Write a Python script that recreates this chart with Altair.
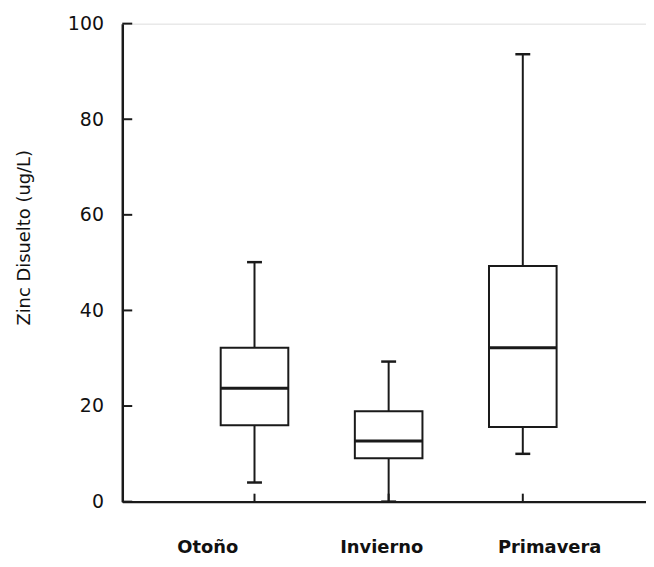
import altair as alt
import pandas as pd

# Data
seasons = ["Otoño", "Invierno", "Primavera"]
whisker_low = [4.0, 0.0, 10.0]
q1 = [16.0, 9.1, 15.6]
median = [23.7, 12.7, 32.2]
q3 = [32.2, 18.9, 49.3]
whisker_high = [50.1, 29.3, 93.6]
y_ticks = [0, 20, 40, 60, 80, 100]

df = pd.DataFrame({
    "season": seasons,
    "low": whisker_low,
    "q1": q1,
    "median": median,
    "q3": q3,
    "high": whisker_high,
})
ticks_df = pd.DataFrame({"v": y_ticks})

INK = "#1a1a1a"
W, H = 527, 481

x_enc = alt.X(
    "season:N",
    sort=seasons,
    title=None,
    scale=alt.Scale(paddingInner=0.496, paddingOuter=0.7, align=0.524),
    axis=alt.Axis(
        domain=True, domainColor=INK, domainWidth=2.5,
        ticks=False, grid=False,
        labelAngle=0,
        labelFont="DejaVu Sans", labelFontWeight="bold", labelFontSize=18,
        labelColor="#111111",
        labelPadding=37,
        labelOffset={
            "condition": [
                {"test": "datum.value === 'Otoño'", "value": -47},
                {"test": "datum.value === 'Primavera'", "value": 27},
            ],
            "value": -7,
        },
    ),
)
y_scale = alt.Scale(domain=[0, 100], nice=False, zero=True)
y_axis = alt.Axis(
    values=y_ticks,
    domain=True, domainColor=INK, domainWidth=2.5,
    ticks=False, grid=False,
    labelFont="DejaVu Sans", labelFontSize=19, labelColor="#111111",
    labelPadding=19,
    title="Zinc Disuelto (ug/L)",
    titleFont="DejaVu Sans", titleFontSize=18, titleFontWeight="normal",
    titleColor="#111111",
    titleX=-98, titleY=215, titleAngle=270,
    titleAlign="center", titleBaseline="middle",
)

base = alt.Chart(df)

whisk = base.mark_rule(color=INK, strokeWidth=2).encode(
    x=x_enc,
    y=alt.Y("low:Q", scale=y_scale, axis=y_axis),
    y2="high:Q",
)
box = base.mark_bar(fill="white", stroke=INK, strokeWidth=2, opacity=1).encode(
    x=alt.X("season:N", sort=seasons),
    y="q1:Q",
    y2="q3:Q",
)
med = base.mark_tick(color=INK, size=68, thickness=3, opacity=1).encode(
    x=alt.X("season:N", sort=seasons),
    y="median:Q",
)
cap_low = base.mark_tick(color=INK, size=15, thickness=2.5, opacity=1).encode(
    x=alt.X("season:N", sort=seasons),
    y="low:Q",
)
cap_high = base.mark_tick(color=INK, size=15, thickness=2.5, opacity=1).encode(
    x=alt.X("season:N", sort=seasons),
    y="high:Q",
)
xticks = base.mark_rule(color=INK, strokeWidth=2).encode(
    x=alt.X("season:N", sort=seasons),
    y=alt.value(H),
    y2=alt.value(H - 8),
)
yticks = alt.Chart(ticks_df).mark_rule(color=INK, strokeWidth=2).encode(
    y="v:Q",
    x=alt.value(0),
    x2=alt.value(10),
)

chart = alt.layer(whisk, box, med, cap_low, cap_high, xticks, yticks).properties(
    width=W,
    height=H,
    autosize=alt.AutoSizeParams(type="none"),
    padding={"left": 115, "top": 14, "right": 0, "bottom": 56},
).configure_view(stroke=None).configure(background="white")

chart.save("out.html", embed_options={"renderer": "svg", "actions": False})
